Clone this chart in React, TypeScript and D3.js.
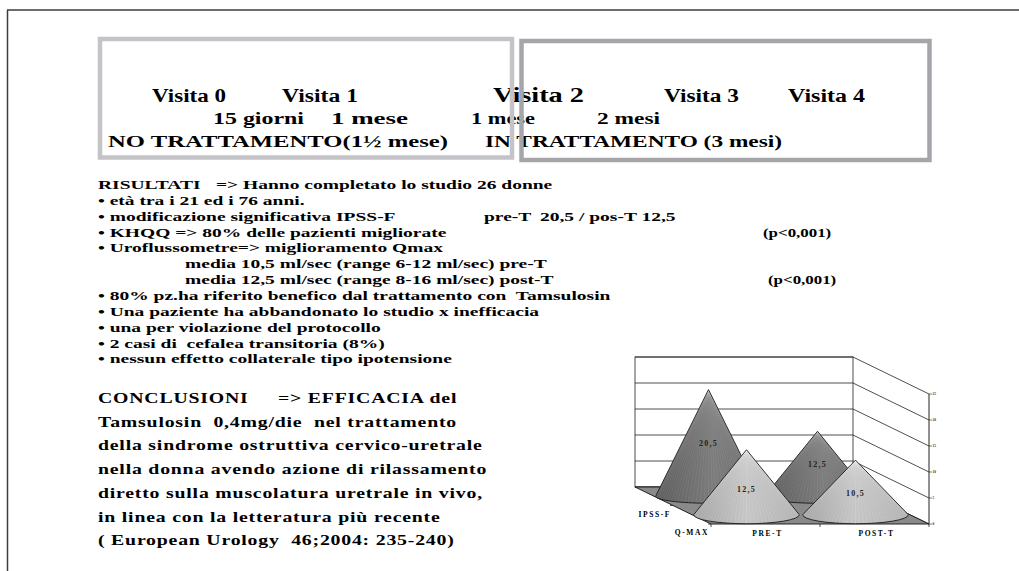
import React from "react";
import * as d3 from "d3";

// header of the slide
const visitLabels = ["Visita 0", "Visita 1", "Visita 2", "Visita 3", "Visita 4"];
const intervalLabels = ["15 giorni", "1 mese", "1 mese", "2 mesi"];
const phaseLabels = ["NO TRATTAMENTO(1½ mese)", "IN TRATTAMENTO (3 mesi)"];

// text block
const resultLines = [
  ["RISULTATI", "=> Hanno completato lo studio 26 donne"],
  ["• età tra i 21 ed i 76 anni."],
  ["• modificazione significativa IPSS-F", "pre-T", "20,5 / pos-T 12,5"],
  ["• KHQQ => 80% delle pazienti migliorate", "(p<0,001)"],
  ["• Uroflussometre=> miglioramento Qmax"],
  ["media 10,5 ml/sec (range 6-12 ml/sec) pre-T"],
  ["media 12,5 ml/sec (range 8-16 ml/sec) post-T", "(p<0,001)"],
  ["• 80% pz.ha riferito benefico dal trattamento con  Tamsulosin"],
  ["• Una paziente ha abbandonato lo studio x inefficacia"],
  ["• una per violazione del protocollo"],
  ["• 2 casi di  cefalea transitoria (8%)"],
  ["• nessun effetto collaterale tipo ipotensione"],
];
const conclusionLines = [
  ["CONCLUSIONI", "=> EFFICACIA del"],
  ["Tamsulosin  0,4mg/die  nel trattamento"],
  ["della sindrome ostruttiva cervico-uretrale"],
  ["nella donna avendo azione di rilassamento"],
  ["diretto sulla muscolatura uretrale in vivo,"],
  ["in linea con la letteratura più recente"],
  ["( European Urology  46;2004: 235-240)"],
];

// chart data
const categories = ["PRE-T", "POST-T"];
const series = ["IPSS-F", "Q-MAX"];
const ipssValues = [20.5, 12.5];
const qmaxValues = [12.5, 10.5];
const yTicks = [0, 5, 10, 15, 20, 25];

const FONT = "'Liberation Serif', 'Times New Roman', serif";

const itFormat = d3.formatLocale({
  decimal: ",",
  thousands: ".",
  grouping: [3],
  currency: ["", "€"],
}).format(".1f");

function Txt(props: { x: number; y: number; size: number; sx: number; children: React.ReactNode; ls?: number }) {
  const { x, y, size, sx, children, ls = 0 } = props;
  return (
    <text
      transform={`translate(${x},${y}) scale(${sx},1)`}
      fontSize={size}
      letterSpacing={ls}
      style={{ whiteSpace: "pre" }}
    >
      {children}
    </text>
  );
}

function ConeChart() {
  const x0 = 635;
  const y0 = 487;
  const dx = 76;
  const dy = 37;

  const x = d3.scaleBand<string>().domain(categories).range([0, 218]);
  const z = d3.scaleBand<string>().domain(series).range([0, 1]);
  const y = d3.scaleLinear().domain([0, 25]).range([0, 130]);

  const proj = (px: number, t: number, v: number): [number, number] => [
    x0 + px + dx * t,
    y0 + dy * t - y(v),
  ];

  const valuesBySeries: Record<string, number[]> = {
    "IPSS-F": ipssValues,
    "Q-MAX": qmaxValues,
  };

  const floor = [proj(0, 0, 0), proj(218, 0, 0), proj(218, 1, 0), proj(0, 1, 0)];

  const cones = series.flatMap((s) =>
    categories.map((c, i) => {
      const v = valuesBySeries[s][i];
      const t = (z(s) as number) + z.bandwidth() / 2;
      const px = (x(c) as number) + x.bandwidth() / 2;
      const [cx, cy] = proj(px, t, 0);
      const [ax, ay] = proj(px, t, v);
      const rx = x.bandwidth() * 0.485;
      const ry = 6 + 4 * t;
      return { s, c, v, t, cx, cy, ax, ay, rx, ry };
    })
  );

  const stripes = d3.range(0, 41).map((k) => (Math.PI * k) / 40);

  return (
    <g fontFamily={FONT}>
      <defs>
        <linearGradient id="g-ipss" x1="0" x2="1" y1="0" y2="0">
          <stop offset="0" stopColor="#5c5c5c" />
          <stop offset="0.55" stopColor="#7c7c7c" />
          <stop offset="1" stopColor="#6a6a6a" />
        </linearGradient>
        <linearGradient id="g-qmax" x1="0" x2="1" y1="0" y2="0">
          <stop offset="0" stopColor="#a4a4a4" />
          <stop offset="0.5" stopColor="#c6c6c6" />
          <stop offset="1" stopColor="#b2b2b2" />
        </linearGradient>
      </defs>

      {/* back wall */}
      <rect x={x0} y={y0 - y(25)} width={218} height={y(25)} fill="#fff" stroke="#222" strokeWidth={0.8} />
      {yTicks.map((v) => (
        <line key={`bg${v}`} x1={x0} x2={x0 + 218} y1={y0 - y(v)} y2={y0 - y(v)} stroke="#222" strokeWidth={0.8} />
      ))}
      {/* right wall */}
      {yTicks.map((v) => {
        const [a, b] = proj(218, 0, v);
        const [c2, d2] = proj(218, 1, v);
        return <line key={`rg${v}`} x1={a} y1={b} x2={c2} y2={d2} stroke="#222" strokeWidth={0.8} />;
      })}
      <line x1={x0 + 218 + dx} x2={x0 + 218 + dx} y1={y0 + dy - y(25)} y2={y0 + dy} stroke="#222" strokeWidth={1} />
      {yTicks.map((v) => {
        const [a, b] = proj(218, 1, v);
        return (
          <g key={`rt${v}`}>
            <line x1={a} x2={a + 3} y1={b} y2={b} stroke="#222" strokeWidth={0.6} />
            <text x={a + 3.5} y={b + 1} fontSize={3.5} fill="#333">{v}</text>
          </g>
        );
      })}

      {/* floor */}
      <polygon points={floor.map((p) => p.join(",")).join(" ")} fill="#8a8a8a" stroke="#222" strokeWidth={1} />

      {/* cones */}
      {cones.map((d) => {
        const path = `M${d.cx - d.rx},${d.cy} L${d.ax},${d.ay} L${d.cx + d.rx},${d.cy} A${d.rx},${d.ry} 0 0 1 ${d.cx - d.rx},${d.cy} Z`;
        const back = d.s === "IPSS-F";
        const frac = 0.55 - 0.2 * d.t;
        return (
          <g key={`${d.s}-${d.c}`}>
            <path d={path} fill={back ? "url(#g-ipss)" : "url(#g-qmax)"} stroke="none" />
            {stripes.map((a, k) => (
              <line
                key={k}
                x1={d.ax}
                y1={d.ay}
                x2={d.cx + d.rx * Math.cos(a)}
                y2={d.cy + d.ry * Math.sin(a)}
                stroke="#fff"
                strokeOpacity={back ? 0.14 : 0.25}
                strokeWidth={0.5}
              />
            ))}
            <path d={path} fill="none" stroke="#1a1a1a" strokeWidth={0.9} />
            <text
              x={d.cx}
              y={d.cy - (d.cy - d.ay) * frac + 3}
              textAnchor="middle"
              fontSize={8}
              fontWeight="bold"
              letterSpacing={1.2}
              fill="#222"
            >
              {itFormat(d.v)}
            </text>
          </g>
        );
      })}

      {/* front edge ticks and category labels */}
      {[0, 109, 218].map((p) => {
        const [a, b] = proj(p, 1, 0);
        return <line key={`ft${p}`} x1={a} x2={a} y1={b} y2={b + 3} stroke="#222" strokeWidth={0.8} />;
      })}
      {categories.map((c) => {
        const [a, b] = proj((x(c) as number) + x.bandwidth() / 2, 1, 0);
        return (
          <text key={c} x={a + 2} y={b + 12} textAnchor="middle" fontSize={7.5} fontWeight="bold" letterSpacing={1.6}>
            {c}
          </text>
        );
      })}
      {/* depth labels */}
      {series.map((s) => {
        const [a, b] = proj(0, (z(s) as number) + z.bandwidth(), 0);
        return (
          <g key={s}>
            <line x1={a - 3} x2={a} y1={b} y2={b} stroke="#222" strokeWidth={0.8} />
            <text x={a - 2} y={b + 11} textAnchor="end" fontSize={7.5} fontWeight="bold" letterSpacing={1.6}>
              {s}
            </text>
          </g>
        );
      })}
    </g>
  );
}

export default function App() {
  const visitPos = [
    { x: 152, w: 74, s: 18 },
    { x: 282, w: 76, s: 18 },
    { x: 493, w: 91, s: 22 },
    { x: 664, w: 75, s: 18 },
    { x: 788, w: 77, s: 18 },
  ];
  const intervalPos = [
    { x: 213, w: 91 },
    { x: 331, w: 77 },
    { x: 471, w: 64 },
    { x: 597, w: 63 },
  ];
  const phasePos = [
    { x: 108, w: 340 },
    { x: 485, w: 297 },
  ];
  const resultX = [[98, 216], [98], [98, 484, 540], [98, 763], [98], [185], [185, 768], [98], [98], [98], [98], [98]];
  const resultSx = [[1.5, 1.5], [1.5], [1.5, 1.5, 1.5], [1.5, 1.3], [1.5], [1.5], [1.5, 1.3], [1.5], [1.5], [1.5], [1.5], [1.5]];
  const conclusionX = [[98, 278], [98], [98], [98], [98], [98], [98]];

  return (
    <svg
      width={1019}
      height={571}
      style={{ position: "absolute", left: 0, top: 0, background: "#fff" }}
      fontFamily={FONT}
      fontWeight="bold"
    >
      {/* page frame */}
      <line x1={7} x2={1019} y1={10} y2={10} stroke="#3c3c3c" strokeWidth={1.5} />
      <line x1={7.5} x2={7.5} y1={10} y2={571} stroke="#3c3c3c" strokeWidth={1.5} />

      {/* header */}
      {visitLabels.map((t, i) => (
        <text key={`v${i}`} x={visitPos[i].x} y={102} fontSize={visitPos[i].s} textLength={visitPos[i].w} lengthAdjust="spacingAndGlyphs">
          {t}
        </text>
      ))}
      {intervalLabels.map((t, i) => (
        <text key={`i${i}`} x={intervalPos[i].x} y={124} fontSize={17} textLength={intervalPos[i].w} lengthAdjust="spacingAndGlyphs">
          {t}
        </text>
      ))}
      {phaseLabels.map((t, i) => (
        <text key={`p${i}`} x={phasePos[i].x} y={147} fontSize={17} textLength={phasePos[i].w} lengthAdjust="spacingAndGlyphs">
          {t}
        </text>
      ))}
      <rect x={100} y={39} width={412} height={118.5} fill="none" stroke="#c4c4c8" strokeWidth={4.5} />
      <rect x={521.5} y={41} width={408} height={119} fill="none" stroke="#a6a6aa" strokeWidth={4.5} />

      {/* results */}
      {resultLines.map((segs, i) =>
        segs.map((s, j) => (
          <Txt key={`r${i}-${j}`} x={resultX[i][j]} y={189 + i * 15.85} size={13} sx={resultSx[i][j]}>
            {s}
          </Txt>
        ))
      )}

      {/* conclusions */}
      {conclusionLines.map((segs, i) =>
        segs.map((s, j) => (
          <Txt key={`c${i}-${j}`} x={conclusionX[i][j]} y={403 + i * 23.7} size={15} sx={1.32} ls={0.6}>
            {s}
          </Txt>
        ))
      )}

      <ConeChart />
    </svg>
  );
}
